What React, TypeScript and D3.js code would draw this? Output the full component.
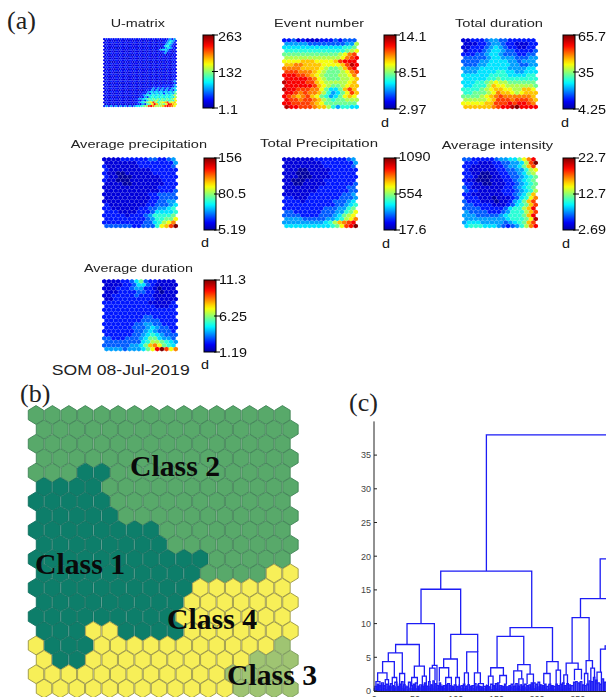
import React from "react";
import * as d3 from "d3";

// ---------- data ----------
const U_MATRIX = [
"2323232323232323232323232323434","1212121212121212121212121234543","2323232323232323232323232334643",
"1212121212121212121212121245432","2322232323232223232323232356432","1212111212121212121212121345432",
"2323232322232323232323234554323","1212121212121212121212122343212","2323232323232323232323232342323",
"1212121212111212121212121212122","2322232323232323232322232323232","1212121211121212121212121212122",
"2323232323232323232323232323233","1211121212121212121112121212122","2323232323232223232323232323233",
"1212121212121212121212121212122","2323222323232323232323232323233","1212121212121212121212121212122",
"2323232323232323222323232323233","1212111212121212121212121212122","2323232323232323232323232323233",
"1212121212121212121212121212122","2322232323222323232323232323233","1212121212121212121212121212123",
"2323232323232323232323232323234","1212121112121212121212121212123","2323232323232323232323232333334",
"1212121212121212121213232323234","2323232323232323232334343434345","1212121212121212123243434343435",
"2323232323232323233454545454546","1212121212121212324354545354547","2323232323232323345656565656568",
"1212121212121213243565656565658","2323232323232334456767676767679","1212121212121232435767867676769",
"232323232323233456789c8689ac89a","121212121212123243679da7879dca9","3434343434343455678cdb888acdcb9",
];
const EVENT_NUMBER = [
"2231211122232333","4444433333333448","5555555555555667","6666666666666789","77777777777789bc",
"8888888888889bcd","9999aaa9999acddd","aabbaaaa9999aced","bbbbaaaa98778acd","cccbbba9877789bc",
"dddccba98777889b","dddddcb98777889a","eddddcca9888889a","ddddddca987789aa","eddcccbb97557aca",
"ddcbcbba864579ca","dcbabca9764579a9","dccbccba87677888","ddccccba97777777","eddcccbaa8646655",
];
const TOTAL_DURATION = [
"1122234433222222","1112234432211122","1122234543221122","1222345543322223","2223345543332233",
"3333345544433344","3333445555443444","3334455555443344","4444555555444455","4445555665544555",
"5555556666555566","5555566766666666","5556678988777777","556668a998888887","6666789aa9988aa9",
"6677789baa989aaa","777789abcbbbbbba","888889acccbcccba","99999aacccdcddcb","aaaaaabcddefdddd",
];
const AVERAGE_PRECIPITATION = [
"1111222222332234","1111111222222224","2111111122222223","2111111111222222","2110011111122222",
"2110001111112222","2110001111111222","1111001111111222","1111111111112222","1111111111112223",
"1111111111223333","1111111111223333","1111111111223344","2111111112233345","2211111122334456",
"2221111222355556","2222212223466667","2222222223466779","222222222335689b","3333332233369acf",
];
const TOTAL_PRECIPITATION = [
"1111111222222234","1111111122222224","1111111112222223","1110011111222222","1110001111222222",
"1110001111222222","1100011112222222","1100111112222223","1111111122222233","1111111222222233",
"1111112222222334","2211122222223334","2222122222233345","2222222222233456","2222222223334467",
"3322222233344679","3333222233345789","444433333445689b","444444444568abcd","5555555555679cdf",
];
const AVERAGE_INTENSITY = [
"33222223445579bd","22211122334458cf","22111112234457ac","2111111223344689","2211001122334578",
"2210001122334567","2110001112234567","2211001112234567","3211111112234567","3221111122234568",
"221111111223457a","222111011123569b","32221110112457ac","33222211123567ac","33332222235668ad",
"43333222346668ac","44433333456667ad","444444444566679e","45554444434567ac","56665554323468bd",
];
const AVERAGE_DURATION = [
"1111223573221111","1111223553211111","1112223442210111","1112222332210111","1122222322211111",
"1122222222211111","2222222222111112","2222222222211122","2222222222222222","2222222222222222",
"2222222223322222","2222222233332222","2222222334433222","2222223334543322","2222222334543332",
"2222223345654333","3322233345775443","3333333356887654","3333334457ab9765","44443444579dfc9b",
];
const PANEL_TITLES = ["U-matrix","Event number","Total duration","Average precipitation","Total Precipitation","Average intensity","Average duration"];
const PANEL_GRIDS = [U_MATRIX,EVENT_NUMBER,TOTAL_DURATION,AVERAGE_PRECIPITATION,TOTAL_PRECIPITATION,AVERAGE_INTENSITY,AVERAGE_DURATION];
const PANEL_TICKS = [
  ["263","132","1.1"],["14.1","8.51","2.97"],["65.7","35","4.25"],
  ["156","80.5","5.19"],["1090","554","17.6"],["22.7","12.7","2.69"],["11.3","6.25","1.19"],
];
const CLASS_ROWS = [
"2222222222222222","2222222222222222","2222222222222222","2222222222222222",
"2221122222222222","1111222222222222","1111122222222222","1111122222222222",
"1111111122222222","1111111122222222","1111111111122222","1111111111222244",
"1111111111444444","1111111114444444","1111111114444444","1114411114444444",
"4111444444444443","4114444444444333","4444444444443333","4444444444443333",
];
const CLASS_LABELS = ["Class 1","Class 2","Class 3","Class 4"];
const Y_TICKS = [0,5,10,15,20,25,30,35];
const X_TICKS = [0,50,100,150,200,250];
const CUT_HEIGHT = 16.7;
// dendrogram merges: left leaf, right leaf, merge height, left child height, right child height
const MERGES = [
[137.7,420,38,17.8,19.6],[81.6,193.4,17.8,15.1,9.4],[57.4,106.1,15.1,10,8.4],[40.2,73.8,10,6.9,3.8],
[26.2,55.3,6.9,5.65,3.7],[17.2,34.4,5.65,4.35,2.6],[10.2,24.6,4.35,2.7,2.0],[4.1,15.6,2.7,1.4,1.7],
[2.0,7.0,1.4,0.5,0.5],[13.5,17.5,1.7,0.6,0.6],[22.1,27.5,2,0.6,0.8],[31.1,37.3,2.6,0.8,0.9],
[49.2,61.5,3.7,2,2.2],[45.9,52.9,2,0.8,1],[59,63.9,2.2,0.7,0.6],[71.3,77,3.8,3.4,0.8],[68,74.6,3.4,1.4,1.6],
[93.9,127,8.4,4.75,5.8],[85.2,102,4.75,3.45,2.0],[79.9,91.4,3.45,1.4,2.0],[87.7,94.7,2,0.7,0.8],
[100,104.5,2,0.7,0.5],[113.5,127,5.8,2.7,2.7],[110.7,115.6,2.7,0.7,0.8],[123,130.3,2.7,0.8,1.1],
[127.9,134,1.1,0.4,0.4],[166.8,218.9,9.4,8.1,4.35],[150.8,183.6,8.1,3.45,3.9],[143,158.6,3.45,2.2,2.3],
[140.2,145.9,2.2,0.6,0.6],[154.1,162.3,2.3,1.2,1],[176.2,191.4,3.9,3,2.5],[171.3,181.1,3,1,1.8],
[177.5,182.8,1.8,0.7,0.6],[187.7,195.5,2.5,1,0.9],[211.9,225.8,4.35,2.6,3.1],[208.2,216,2.6,1,1],
[223.4,228.7,3.1,1,1],[277.5,420,19.6,13.7,15],[253.3,330,13.7,10.9,8],[243,263.9,10.9,4.15,4.5],
[235.7,250.4,4.15,2.4,3.2],[232.8,237.3,2.4,1,0.9],[245.9,254.5,3.2,1.6,1.7],[260.2,268,4.5,2.6,3.4],
[258.2,262.3,2.6,0.8,0.8],[266,270.5,3.4,1.4,2],[277.9,300,6.2,2.8,5],[283.6,310,6.7,6.2,5],
[273.6,279,2.8,1,1],
];
// small low merges: left, right, height
const SMALL_MERGES = [
[0.8,2.8,0.7],[3.5,5.2,1.0],[6.1,8.0,0.8],[9.0,11.2,1.2],[11.9,13.8,0.8],[14.5,16.6,1.0],[17.4,19.0,0.7],
[19.8,22.0,1.1],[22.8,24.2,0.8],[25.2,27.8,1.3],[28.5,30.0,0.7],[30.8,32.6,1.0],[33.4,35.3,1.4],[36.2,38.0,0.9],
[38.9,41.2,0.6],[42.0,44.3,1.3],[45.0,47.1,0.8],[47.8,49.6,1.0],[50.4,52.6,1.2],[53.4,55.0,0.7],[55.9,58.2,0.9],
[59.0,60.7,0.7],[61.5,63.2,1.2],[64.2,66.0,0.7],[66.7,68.6,1.4],[69.6,71.3,0.9],[72.0,73.8,1.5],[74.6,76.3,1.1],
[77.2,79.0,0.8],[79.8,81.4,1.2],[82.2,84.0,0.7],[84.9,86.8,0.8],[87.6,89.2,0.9],[90.0,92.4,1.1],[93.2,95.0,0.8],
[95.9,97.4,0.7],[98.2,100.4,0.9],[101.2,103.0,0.7],[103.9,105.6,0.6],[106.5,108.6,0.8],[109.4,111.3,1.0],[112.2,114.0,0.7],
[114.8,116.7,0.9],[117.6,119.4,0.7],[120.2,122.4,0.8],[123.2,125.0,1.1],[125.9,128.2,0.6],[129.0,130.8,0.7],[131.6,133.4,0.6],
[134.4,136.7,0.7],[137.6,139.4,0.8],[140.2,142.0,0.6],[143.0,145.2,1.0],[146.0,147.8,0.8],[148.7,150.6,1.1],[151.4,153.2,1.2],
[154.1,156.4,0.8],[157.2,159.0,0.7],[160.0,161.8,1.0],[162.6,164.6,0.6],[165.4,167.2,0.8],[168.1,170.4,1.0],[171.2,173.0,0.7],
[173.8,175.6,1.1],[176.5,178.2,0.7],[179.1,181.0,0.9],[181.9,183.6,0.7],[184.5,186.6,1.0],[187.5,189.3,0.8],[190.1,192.0,0.9],
[192.8,194.6,1.2],[195.5,197.6,1.2],[198.4,200.3,1.0],[201.1,203.2,1.3],[204.0,205.8,0.9],[206.6,208.4,0.8],[209.2,211.0,1.0],
[212.0,214.0,0.7],[214.8,216.7,1.0],[217.6,219.2,0.8],[220.1,222.2,0.7],[223.0,224.8,1.0],[225.6,227.5,0.8],[228.4,230.4,1.0],
[231.2,233.0,1.2],[233.9,235.8,0.8],[236.6,238.4,1.1],[239.2,241.0,0.9],[241.9,244.0,0.8],[244.8,246.6,1.3],[247.4,249.3,1.4],
[250.2,252.0,1.2],[253.0,255.0,1.4],[255.8,257.6,0.9],[258.4,260.2,0.8],[261.1,263.0,1.0],[263.8,265.6,1.5],[266.5,268.4,1.4],
[269.2,271.0,2.0],[271.9,273.6,1.6],[274.5,276.4,1.2],[277.2,279.0,1.0],[279.8,281.7,1.8],[282.6,284.4,1.3],
];
// leaf stem heights, tenths of a unit, one for each leaf
const LEAF_TENTHS =
"3534634253745362534635426354735264537354625346354726354635427364536253746352643562574635264735362534"+
"6352745362534635274635362547362534635274635425364735263546352743526354637253463527463542635473526354"+
"635274635463527364536253746352743625374635";

// ---------- scales ----------
const jet = d3.scaleLinear<string>()
  .domain([0, 0.11, 0.36, 0.61, 0.86, 1])
  .range(["#00009f", "#0000ff", "#00ffff", "#ffff00", "#ff0000", "#800000"])
  .interpolate(d3.interpolateRgb);
const gridColor = (c: string, dim: boolean) => {
  const v = parseInt(c, 16);
  return jet((dim && v <= 3 ? v * 0.72 : v) / 15);
};

const yDend = d3.scaleLinear().domain([0, 40]).range([691, 421.4]);
const xDend = d3.scaleLinear().domain([0, 50]).range([374.3, 415]);

const hexPath = (cx: number, cy: number, rx: number, ry: number) =>
  d3.line()(
    d3.range(6).map((i) => {
      const a = (Math.PI / 3) * i + Math.PI / 6;
      return [cx + rx * Math.cos(a), cy + ry * Math.sin(a)] as [number, number];
    })
  ) + "Z";

// ---------- layout ----------
const GRID_BOX = [
  [103, 38, 74, 69], [282, 38, 77, 71], [461, 38, 77, 71],
  [102, 157, 76, 71], [282, 157, 76, 71], [462, 157, 76, 71],
  [102, 279, 76, 72],
];
const BAR_BOX = [
  [203, 35, 11, 73], [384, 35, 12, 74], [563, 35, 12, 74],
  [204, 158, 12, 72], [384, 158, 12, 72], [563, 158, 12, 72],
  [204, 280, 12, 72],
];
const TITLE_BOX = [
  [110.7, 54.3, 27.3], [274, 90, 27], [455, 88, 27],
  [70.7, 136.3, 148], [260, 118, 147], [441.7, 111.3, 149],
  [84, 109, 272],
];
const TICK_X = [218, 398.5, 578, 218, 398.5, 578, 219];
const TICK_BASE = [
  [40.7, 76.7, 114], [40.7, 76.7, 114], [40.7, 76.7, 114],
  [162, 198, 234], [161, 198, 234], [162, 198, 234],
  [284, 321, 357],
];
const D_POS = [null, [381, 126.7], [561, 126.7], [201, 246.7], [382, 247.7], [562, 247.7], [201, 369]];

const CLASS_POS = [[35, 574], [130, 476], [227, 685], [167, 629]];
const CLASS_FILL: Record<string, [string, string]> = {
  "1": ["#0d7e6a", "#0b6f5d"],
  "2": ["#58a96b", "#418356"],
  "3": ["#9fc472", "#7b9a5a"],
  "4": ["#f7ef58", "#9a9543"],
};

function SomPanel({ i }: { i: number }) {
  const grid = PANEL_GRIDS[i];
  const [bx, by, bw, bh] = GRID_BOX[i];
  const [tx, tw, ty] = TITLE_BOX[i];
  const [cx, cy, cw, ch] = BAR_BOX[i];
  const cols = grid[0].length, rows = grid.length;
  const px = bw / (cols + 0.5);
  const rx = px / Math.sqrt(3);
  const py = (bh - 1.2 * rx) / (rows - 1 + 0.33);
  const ry = py / 1.5;
  const stroke = i === 0 ? 0 : 0.25;
  const barY = d3.scaleLinear().domain([0, 2]).range([cy, cy + ch]);
  const d = D_POS[i];
  return (
    <g>
      <g filter={i === 0 ? "url(#softer)" : "url(#soft)"}>
        {grid.map((row, r) =>
          row.split("").map((c, k) => (
            <path
              key={r + "-" + k}
              d={hexPath(bx + px / 2 + k * px + (r % 2 ? px / 2 : 0), by + ry + r * py, rx, ry)}
              fill={gridColor(c, i === 0)}
              stroke="#dfe6ff"
              strokeOpacity={0.25}
              strokeWidth={stroke}
            />
          ))
        )}
      </g>
      <text x={tx} y={ty} fontSize={11} textLength={tw} lengthAdjust="spacingAndGlyphs" fill="#222" filter="url(#softer)">{PANEL_TITLES[i]}</text>
      <rect x={cx} y={cy} width={cw} height={ch} fill="url(#jetbar)" stroke="#000" strokeWidth={1} />
      {[0, 1, 2].map((t) => (
        <g key={t}>
          <line x1={cx + cw - 2} x2={cx + cw + 4} y1={barY(t)} y2={barY(t)} stroke="#000" />
          <text transform={`translate(${TICK_X[i]},${TICK_BASE[i][t]}) scale(1.2,1)`} fontSize={12} fill="#111" filter="url(#softer)">{PANEL_TICKS[i][t]}</text>
        </g>
      ))}
      {d && <text transform={`translate(${d[0]},${d[1]}) scale(1.2,1)`} fontSize={12} fill="#111">d</text>}
    </g>
  );
}

export default function App() {
  const jetStops = d3.range(0, 1.001, 0.05);
  return (
    <svg
      width={606}
      height={697}
      viewBox="0 0 606 697"
      style={{ position: "fixed", left: 0, top: 0, display: "block", background: "#fff" }}
      fontFamily="'Liberation Sans', Arial, sans-serif"
    >
      <defs>
        <linearGradient id="jetbar" x1="0" y1="1" x2="0" y2="0">
          {jetStops.map((t) => <stop key={t} offset={t} stopColor={jet(t)} />)}
        </linearGradient>
        <filter id="soft" x="-5%" y="-5%" width="110%" height="110%"><feGaussianBlur stdDeviation="0.55" /></filter>
        <filter id="softer" x="-5%" y="-20%" width="110%" height="140%"><feGaussianBlur stdDeviation="0.2" /></filter>
        <filter id="softb" x="-5%" y="-5%" width="110%" height="110%"><feGaussianBlur stdDeviation="0.6" /></filter>
        <filter id="softd"><feGaussianBlur stdDeviation="0.3" /></filter>
      </defs>

      <g fontFamily="'Liberation Serif', serif" fontSize={26} fill="#222">
        <text x={7} y={29}>(a)</text>
        <text x={20} y={402}>(b)</text>
        <text x={349} y={411}>(c)</text>
      </g>

      {PANEL_TITLES.map((_, i) => <SomPanel key={i} i={i} />)}
      <text x={51.7} y={374.5} fontSize={14.5} textLength={138} lengthAdjust="spacingAndGlyphs" fill="#222">SOM 08-Jul-2019</text>

      {/* class map */}
      <g filter="url(#softb)">
        {CLASS_ROWS.map((row, r) =>
          row.split("").map((c, k) => (
            <path
              key={r + "-" + k}
              d={hexPath(36 + 16.43 * k + (r % 2 ? 8 : 0), 415 + 14.4 * r, 8.9, 9.4)}
              fill={CLASS_FILL[c][0]}
              stroke={CLASS_FILL[c][1]}
              strokeWidth={0.9}
            />
          ))
        )}
      </g>
      <g fontFamily="'Liberation Serif', serif" fontWeight={700} fontSize={29} fill="#0a0a0a">
        {CLASS_LABELS.map((t, i) => (
          <text key={t} x={CLASS_POS[i][0]} y={CLASS_POS[i][1]} textLength={90} lengthAdjust="spacingAndGlyphs">{t}</text>
        ))}
      </g>

      {/* dendrogram */}
      <g filter="url(#softd)" fill="none" stroke="#1c1cf5" strokeWidth={1.3}>
        {MERGES.map((m, i) => (
          <path key={i} d={`M${xDend(m[0])},${yDend(m[3])}V${yDend(m[2])}H${xDend(m[1])}V${yDend(m[4])}`} />
        ))}
        {SMALL_MERGES.map((m, i) => (
          <path key={i} d={`M${xDend(m[0])},${yDend(0)}V${yDend(m[2])}H${xDend(m[1])}V${yDend(0)}`} />
        ))}
        {LEAF_TENTHS.split("").map((c, i) => (
          <line key={i} x1={xDend(i)} x2={xDend(i)} y1={yDend(0)} y2={yDend(+c / 7)} strokeWidth={0.9} />
        ))}
      </g>
      <line x1={374.3} x2={606} y1={yDend(CUT_HEIGHT)} y2={yDend(CUT_HEIGHT)} stroke="#c8443c" strokeWidth={1.9} filter="url(#softd)" />
      <line x1={374} x2={374} y1={yDend(40)} y2={691} stroke="#222" strokeWidth={1} />
      <line x1={374} x2={606} y1={691.5} y2={691.5} stroke="#222" strokeWidth={1} />
      {Y_TICKS.map((t) => (
        <g key={t}>
          <line x1={374} x2={377} y1={yDend(t)} y2={yDend(t)} stroke="#222" />
          <text x={371} y={yDend(t) + 3.3} fontSize={9} textAnchor="end" fill="#444">{t}</text>
        </g>
      ))}
      {X_TICKS.map((t) => (
        <text key={t} x={xDend(t)} y={702} fontSize={9} textAnchor="middle" fill="#444">{t}</text>
      ))}
    </svg>
  );
}
